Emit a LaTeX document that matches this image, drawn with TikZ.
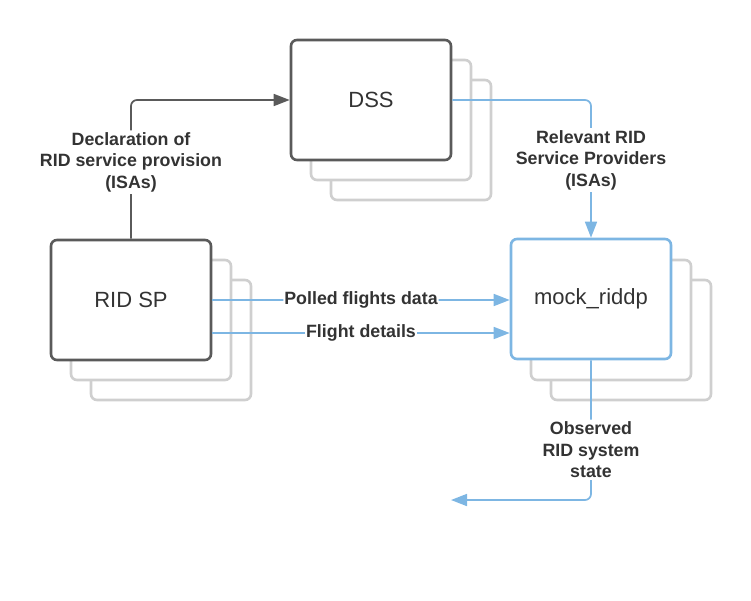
\documentclass[tikz,border=0pt]{standalone}
\usepackage{fontspec}
\setmainfont{Liberation Sans}
\usetikzlibrary{arrows.meta}

\definecolor{boxgray}{HTML}{5A5A5A}
\definecolor{shadegray}{HTML}{CFCFCF}
\definecolor{linkblue}{HTML}{7DB6E3}
\definecolor{txt}{HTML}{333333}

\tikzset{
  card/.style={draw=boxgray, line width=2.6pt, fill=white, rounded corners=6pt,
    minimum width=160pt, minimum height=120pt, inner sep=0pt,
    font=\fontsize{22}{26}\selectfont, text=txt},
  backcard/.style={draw=shadegray, line width=2.6pt, fill=white, rounded corners=6pt,
    minimum width=160pt, minimum height=120pt, inner sep=0pt},
  link/.style={line width=1.7pt, rounded corners=6pt,
    -{Triangle[length=16pt,width=12pt]}},
  darklink/.style={link, draw=boxgray},
  bluelink/.style={link, draw=linkblue},
  tag/.style={fill=white, text=txt, align=center, inner sep=2pt,
    font=\bfseries\fontsize{17.8}{21.5}\selectfont},
}

\begin{document}
\begin{tikzpicture}[x=1pt, y=-1pt]
  \useasboundingbox (0,0) rectangle (751,600);

  % DSS stack
  \node[backcard] (dssC) at (411,140) {};
  \node[backcard] (dssB) at (391,120) {};
  \node[card] (dss) at (371,100) {DSS};

  % RID SP stack
  \node[backcard] (spC) at (171,340) {};
  \node[backcard] (spB) at (151,320) {};
  \node[card] (ridsp) at (131,300) {RID SP};

  % mock_riddp stack
  \node[backcard] (mockC) at (631,340) {};
  \node[backcard] (mockB) at (611,320) {};
  \node[card, draw=linkblue] (mock) at (591,299) {mock\_riddp};

  % end point of the outgoing observation arrow
  \coordinate (obs) at (451,500);

  % connectors
  \draw[darklink] (ridsp.north) |- node[tag, pos=0.276]
    {Declaration of\\RID service provision\\(ISAs)} (dss.west);

  \draw[bluelink] (dss.east) -| node[tag, pos=0.718]
    {Relevant RID\\Service Providers\\(ISAs)} (mock.north);

  \draw[bluelink] (ridsp.east) -- node[tag, inner sep=1pt] {Polled flights data}
    (ridsp.east -| mock.west);

  \draw[bluelink] ([yshift=-33pt]ridsp.east) -- node[tag, inner sep=1pt] {Flight details}
    ([yshift=-33pt]ridsp.east -| mock.west);

  \draw[bluelink] (mock.south) |- node[tag, pos=0.32]
    {Observed\\RID system\\state} (obs);
\end{tikzpicture}
\end{document}
